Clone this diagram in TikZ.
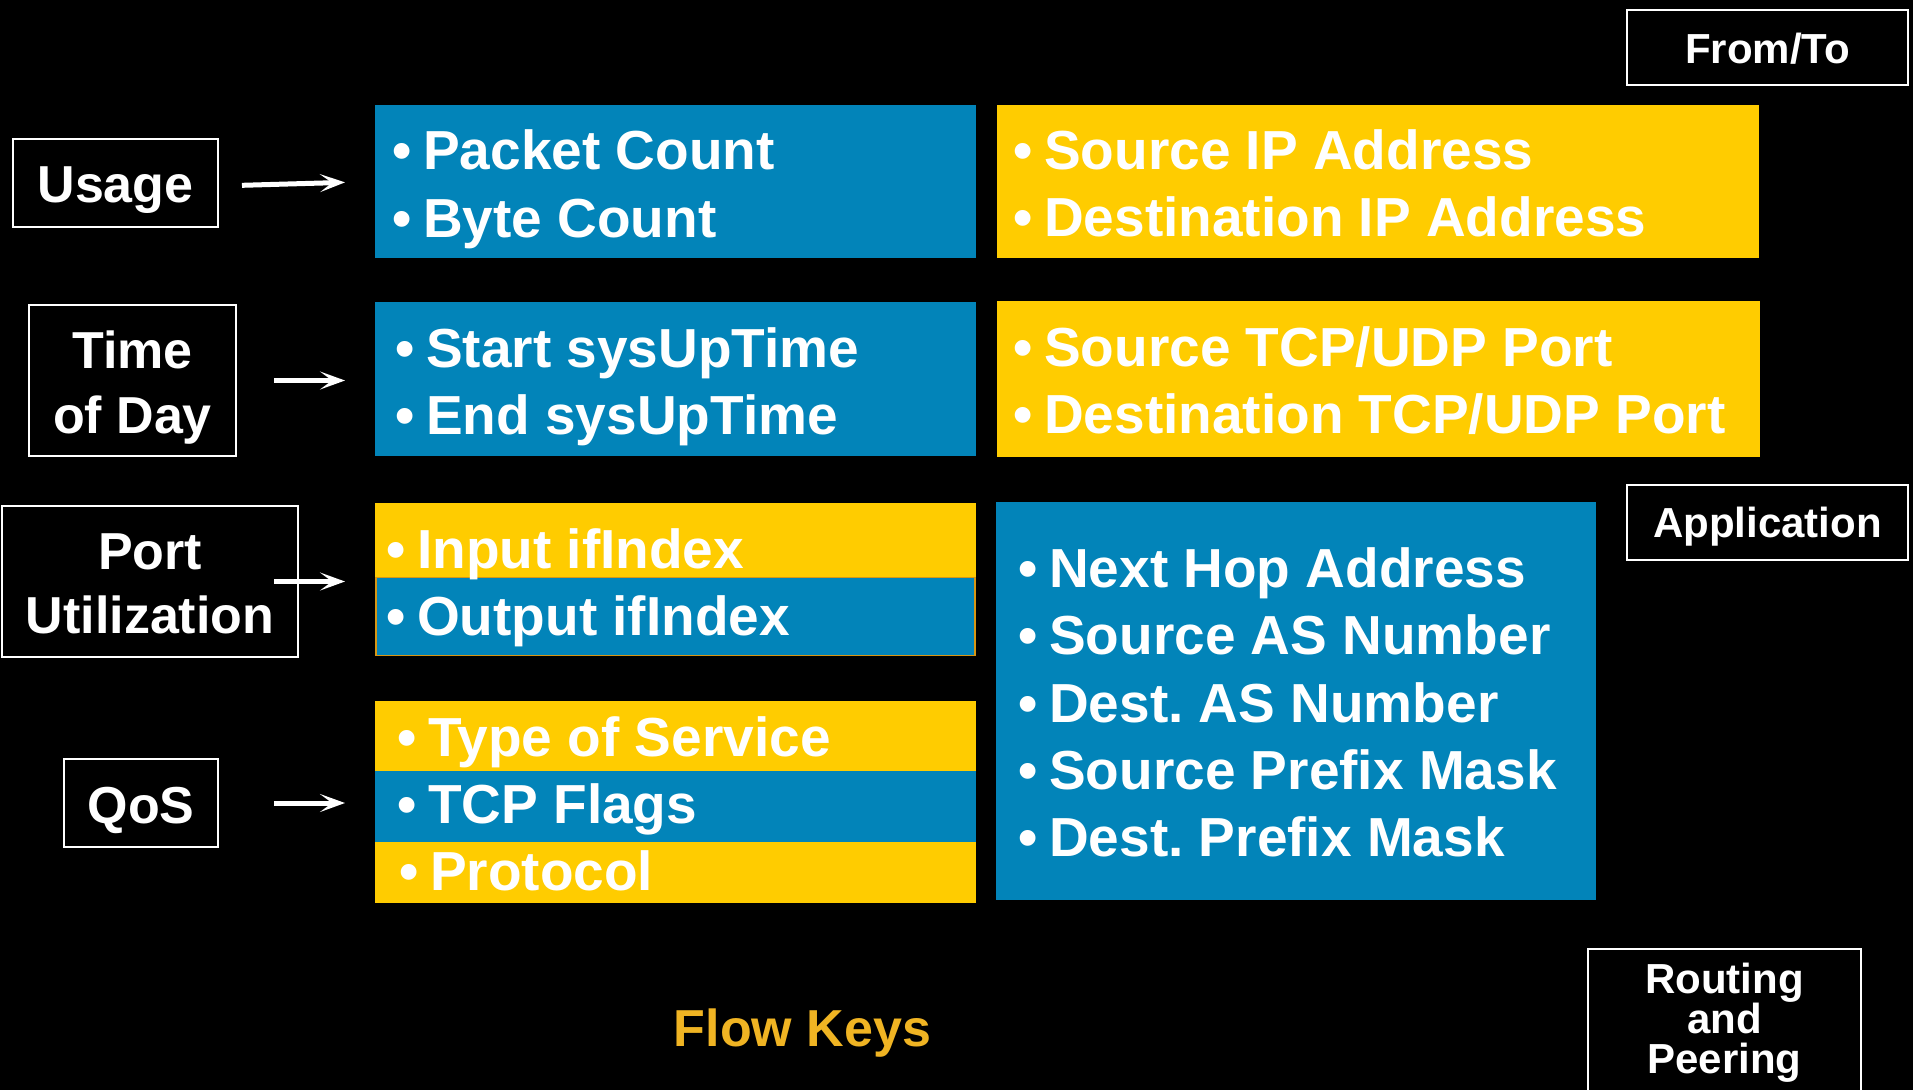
\documentclass[tikz,border=0pt]{standalone}
\usepackage{fontspec}
\setmainfont{Liberation Sans}
\usetikzlibrary{arrows.meta}
\definecolor{kblue}{RGB}{2,132,185}
\definecolor{kyellow}{RGB}{255,204,0}
\definecolor{kgold}{RGB}{240,180,35}
\definecolor{kedge}{RGB}{215,150,20}
\newcommand{\bul}{\makebox[31pt][l]{•}}
\frenchspacing
\begin{document}
\begin{tikzpicture}[x=1pt,y=-1pt,
  lblbox/.style={draw=white, line width=2pt, inner sep=0pt, outer sep=0pt},
  lbltext/.style={text=white, font=\fontsize{52}{60}\selectfont\bfseries, inner sep=0pt, anchor=base},
  smalltext/.style={text=white, font=\fontsize{42}{48}\selectfont\bfseries, inner sep=0pt, anchor=base},
  keytext/.style={text=white, font=\fontsize{55}{66}\selectfont\bfseries, inner sep=0pt, anchor=base west},
  titletext/.style={text=kgold, font=\fontsize{52}{60}\selectfont\bfseries, inner sep=0pt, anchor=base},
  bluebox/.style={fill=kblue, inner sep=0pt, outer sep=0pt},
  yellowbox/.style={fill=kyellow, inner sep=0pt, outer sep=0pt},
  arr/.style={draw=white, line width=5pt, -{Stealth[length=25pt,width=18pt,inset=12pt]}},
]
\useasboundingbox (0,0) rectangle (1913,1090);
\fill[black] (0,0) rectangle (1913,1090);

% left label boxes
\node[lblbox, minimum width=205pt, minimum height=88pt] (usage) at (115.5,183) {};
\node[lbltext] (usaget) at (115.5,202) {Usage};
\node[lblbox, minimum width=207pt, minimum height=151pt] (time) at (132.5,380.5) {};
\node[lbltext] (timet1) at (132.5,368) {Time};
\node[lbltext] (timet2) at (132.5,433) {of Day};
\node[lblbox, minimum width=296pt, minimum height=151pt] (port) at (150,581.5) {};
\node[lbltext] (portt1) at (150,569) {Port};
\node[lbltext] (portt2) at (150,633) {Utilization};
\node[lblbox, minimum width=154pt, minimum height=88pt] (qos) at (141,803) {};
\node[lbltext] (qost) at (141,823) {QoS};

% middle column
\node[bluebox, minimum width=601pt, minimum height=153pt] (pcbox) at (675.5,181.5) {};
\node[keytext] (pc1) at (392,169) {\bul Packet Count};
\node[keytext] (pc2) at (392,237) {\bul Byte Count};
\node[bluebox, minimum width=601pt, minimum height=154pt] (stbox) at (675.5,379) {};
\node[keytext] (st1) at (395,367) {\bul Start sysUpTime};
\node[keytext] (st2) at (395,434) {\bul End sysUpTime};
\node[yellowbox, minimum width=601pt, minimum height=74pt] (inbox) at (675.5,540) {};
\node[bluebox, draw=kedge, line width=1.5pt, minimum width=599pt, minimum height=78pt] (outbox) at (675.5,616.5) {};
\node[keytext] (in1) at (386,568) {\bul Input ifIndex};
\node[keytext] (out1) at (386,635) {\bul Output ifIndex};
\node[yellowbox, minimum width=601pt, minimum height=70pt] (tosbox) at (675.5,736) {};
\node[bluebox, minimum width=601pt, minimum height=71pt] (tcpbox) at (675.5,806.5) {};
\node[yellowbox, minimum width=601pt, minimum height=61pt] (protobox) at (675.5,872.5) {};
\node[keytext] (tos1) at (397,756) {\bul Type of Service};
\node[keytext] (tcp1) at (397,823) {\bul TCP Flags};
\node[keytext] (pro1) at (399,890) {\bul Protocol};

% right column
\node[yellowbox, minimum width=762pt, minimum height=153pt] (ipbox) at (1378,181.5) {};
\node[keytext] (ip1) at (1013,169) {\bul Source IP Address};
\node[keytext] (ip2) at (1013,236) {\bul Destination IP Address};
\node[yellowbox, minimum width=763pt, minimum height=156pt] (portsbox) at (1378.5,379) {};
\node[keytext] (ps1) at (1013,366) {\bul Source TCP/UDP Port};
\node[keytext] (ps2) at (1013,433) {\bul Destination TCP/UDP Port};
\node[bluebox, minimum width=600pt, minimum height=398pt] (rtbox) at (1296,701) {};
\node[keytext] (rt1) at (1018,587) {\bul Next Hop Address};
\node[keytext] (rt2) at (1018,654) {\bul Source AS Number};
\node[keytext] (rt3) at (1018,722) {\bul Dest. AS Number};
\node[keytext] (rt4) at (1018,789) {\bul Source Prefix Mask};
\node[keytext] (rt5) at (1018,856) {\bul Dest. Prefix Mask};

% right labels
\node[lblbox, minimum width=281pt, minimum height=75pt] (fromto) at (1767.5,47.5) {};
\node[smalltext] (fromtot) at (1767.5,63) {From/To};
\node[lblbox, minimum width=281pt, minimum height=75pt] (app) at (1767.5,522.5) {};
\node[smalltext] (appt) at (1767.5,537) {Application};
\node[lblbox, minimum width=273pt, minimum height=143pt] (routing) at (1724.5,1020.5) {};
\node[smalltext] (routt1) at (1724.5,993) {Routing};
\node[smalltext] (routt2) at (1724.5,1033) {and};
\node[smalltext] (routt3) at (1724.5,1073) {Peering};

% title
\node[titletext] (title) at (802.5,1046) {Flow Keys};

% arrows
\draw[arr, shorten <=24pt, shorten >=30pt] ([yshift=-3pt]usage.east) -- (pcbox.west);
\draw[arr, shorten <=38pt, shorten >=30pt] (time.east) -- (time.east -| stbox.west);
\draw[arr, shorten <=-24pt, shorten >=30pt] (port.east) -- (port.east -| inbox.west);
\draw[arr, shorten <=56pt, shorten >=30pt] (qos.east) -- (qos.east -| tcpbox.west);
\end{tikzpicture}
\end{document}
